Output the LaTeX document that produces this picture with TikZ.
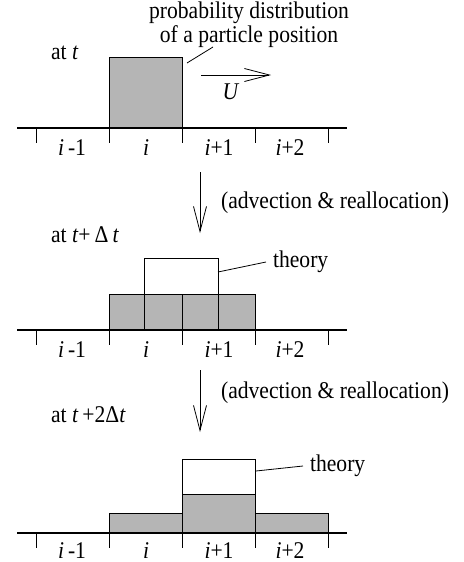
\documentclass[tikz,border=0pt]{standalone}
\usepackage{fontspec}
\setmainfont[FakeStretch=0.9]{Liberation Serif}
\usetikzlibrary{arrows.meta}

\begin{document}
\begin{tikzpicture}[
    x=0.5pt,y=-0.5pt,
    font=\fontsize{12}{10.5}\selectfont,
    cell/.style={draw,fill=gray!58,line width=0.4pt},
    theo/.style={draw,line width=0.4pt},
    axis/.style={line width=1.1pt},
    cellmark/.style={line width=0.4pt},
    index/.style={inner sep=0.5pt,anchor=base},
    flow/.style={-{Straight Barb[length=12.5pt,width=6.5pt]},line width=0.4pt},
    lead/.style={line width=0.4pt}
]
\useasboundingbox (0,0) rectangle (464,562);

% step t
\node[anchor=west] (at1) at (44,53) {at \textit{t}};
\node[align=center] (prob) at (249,25) {probability distribution\\of a particle position};
\draw[cell] (109,57) rectangle (182,128);
\coordinate (pcorner) at (187,63);
\coordinate (ptip) at (213,47);
\draw[lead] (pcorner) -- (ptip);
\coordinate (u0) at (201,75);
\coordinate (u1) at (271,75);
\draw[flow] (u0) -- (u1);
\node (U) at (231,92) {\textit{U}};

% step t+dt
\coordinate (d1a) at (200,172);
\coordinate (d1b) at (200,233);
\draw[flow] (d1a) -- (d1b);
\node[anchor=west] (adv1) at (214,203) {(advection \& reallocation)};
\node[anchor=west] (at2) at (44,235) {at \textit{t}+\,Δ\,\textit{t}};
\foreach \l/\r in {109/144,144/182,182/218,218/255}
  \draw[cell] (\l,294) rectangle (\r,330);
\draw[theo] (144,294) rectangle (218,258);
\node[anchor=west] (theory2) at (266,262) {theory};
\coordinate (t2corner) at (218,272);
\draw[lead] (t2corner) -- (theory2.west);

% step t+2dt
\coordinate (d2a) at (200,370);
\coordinate (d2b) at (200,432);
\draw[flow] (d2a) -- (d2b);
\node[anchor=west] (adv2) at (214,393) {(advection \& reallocation)};
\node[anchor=west] (at3) at (44,415) {at \textit{t}\,+2Δ\textit{t}};
\draw[cell] (109,513) rectangle (182,533);
\draw[cell] (182,494) rectangle (255,533);
\draw[cell] (255,513) rectangle (328,533);
\draw[theo] (182,494) rectangle (255,459);
\node[anchor=west] (theory3) at (303,466) {theory};
\coordinate (t3corner) at (256,471);
\draw[lead] (t3corner) -- (theory3.west);

% grid lines and cell indices
\foreach \b/\d/\p in {128/27/a,330/27/b,533/25/c}{
  \draw[axis] (17,\b) -- (347,\b);
  \foreach \x in {36,109,182,255,328}
    \draw[cellmark] (\x,\b) -- (\x,\b+15);
  \node[index] (\p0) at (72,\b+\d) {\textit{i}\,-1};
  \node[index] (\p1) at (146,\b+\d) {\textit{i}};
  \node[index] (\p2) at (219,\b+\d) {\textit{i}+1};
  \node[index] (\p3) at (290,\b+\d) {\textit{i}+2};
}
\end{tikzpicture}
\end{document}
